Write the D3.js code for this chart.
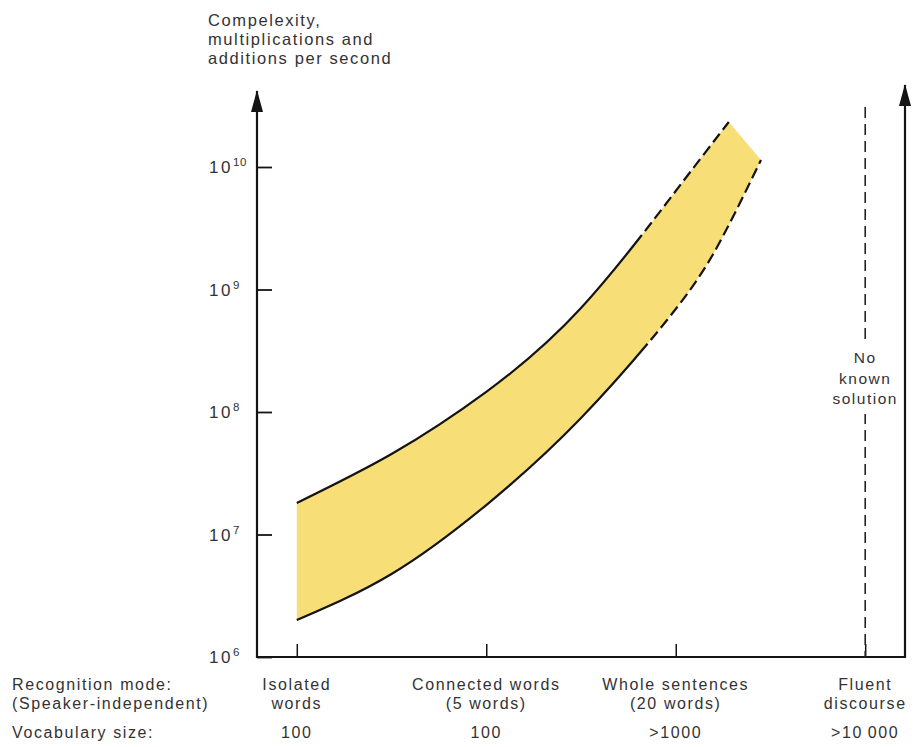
<!DOCTYPE html>
<html>
<head>
<meta charset="utf-8">
<script src="https://cdn.jsdelivr.net/npm/d3@7"></script>
<style>
    body { margin: 0; background: #fff; }
    svg text { font-family: "Liberation Sans", Arial, Helvetica, sans-serif; fill: #333; }
</style>
</head>
<body>
<svg id="chart" width="920" height="747"></svg>
<script>
// horizontal categories
const modeLabels = [
    ["Isolated", "words"],
    ["Connected words", "(5 words)"],
    ["Whole sentences", "(20 words)"],
    ["Fluent", "discourse"]
];
const vocabularySizes = ["100", "100", ">1000", ">10\u2009000"];
const rowLabels = ["Recognition mode:", "(Speaker-independent)", "Vocabulary size:"];
const yTitle = ["Compelexity,", "multiplications and", "additions per second"];
const yTickExponents = [6, 7, 8, 9, 10];
const noSolutionLabel = ["No", "known", "solution"];

// band edges, position in category units -> multiplications+additions per second
const upperPos = [0, 0.5, 1.0, 1.5, 2.0, 2.28];
const upperOps = [1.81e7, 4.54e7, 1.46e8, 7.06e8, 6.37e9, 2.33e10];
const lowerPos = [0, 0.5, 1.0, 1.5, 2.0, 2.25, 2.45];
const lowerOps = [2.0e6, 4.76e6, 1.74e7, 8.93e7, 6.93e8, 2.74e9, 1.14e10];
// beyond these positions the edges are only projected (dashed)
const upperSolidUntil = 1.82;
const lowerSolidUntil = 1.85;

window.Chart = window.Chart || {};

Chart.init = function() {
    Chart.setup.initConst();
    Chart.setup.initScales();
    Chart.setup.initDefs();
    Chart.core.draw();
};

Chart.core = {
    draw: function() {
        Chart.core.drawBand();
        Chart.core.drawAxes();
        Chart.core.drawNoSolution();
        Chart.core.drawTexts();
    },

    drawBand: function() {
        let upper = upperPos.map((p, i) => ({pos: p, ops: upperOps[i]}));
        let lower = lowerPos.map((p, i) => ({pos: p, ops: lowerOps[i]}));
        let back = Chart.line(lower.slice().reverse()).replace(/^M/, 'L');

        Chart.svg.append('path')
            .attr('d', Chart.line(upper) + back + 'Z')
            .attr('fill', '#f8de76')
            .attr('stroke', 'none');

        Chart.core.drawEdge(upper, upperSolidUntil);
        Chart.core.drawEdge(lower, lowerSolidUntil);
    },

    drawEdge: function(points, solidUntil) {
        let path = Chart.svg.append('path')
            .attr('d', Chart.line(points))
            .attr('fill', 'none')
            .attr('stroke', '#141414')
            .attr('stroke-width', 2.2);
        let len = Chart.helpers.lengthAtX(path.node(), Chart.xPos(solidUntil));
        let total = path.node().getTotalLength();
        let dash = [len, 5];
        for (let s = len + 5; s < total; s += 16) dash.push(11, 5);
        path.attr('stroke-dasharray', dash.join(' '));
    },

    drawAxes: function() {
        let yTicks = Chart.svg.append('g')
            .attr('transform', 'translate(' + Chart.left + ',0)')
            .call(d3.axisLeft(Chart.y)
                .tickValues(yTickExponents.map(e => Math.pow(10, e)))
                .tickSize(-15)
                .tickFormat(() => ''));
        yTicks.select('.domain').remove();
        yTicks.selectAll('line').attr('stroke', '#141414').attr('stroke-width', 1.8);

        let xTicks = Chart.svg.append('g')
            .attr('transform', 'translate(0,' + Chart.bottom + ')')
            .call(d3.axisBottom(Chart.x).tickSize(-13).tickFormat(() => ''));
        xTicks.select('.domain').remove();
        xTicks.selectAll('line').attr('stroke', '#141414').attr('stroke-width', 1.5);

        Chart.svg.append('path')
            .attr('d', 'M' + Chart.left + ',' + Chart.leftTip + 'V' + Chart.bottom +
                       'H' + Chart.right + 'V' + Chart.rightTip)
            .attr('fill', 'none')
            .attr('stroke', '#141414')
            .attr('stroke-width', 2.2)
            .attr('marker-start', 'url(#head)')
            .attr('marker-end', 'url(#head)');

        yTickExponents.forEach(function(e) {
            let t = Chart.svg.append('text')
                .attr('x', 209)
                .attr('y', Chart.y(Math.pow(10, e)) + 6)
                .attr('font-size', 17)
                .attr('letter-spacing', 2.5);
            t.append('tspan').text('10');
            t.append('tspan').attr('font-size', 11.5).attr('dy', -7)
                .attr('letter-spacing', 0.8).text(e);
        });
    },

    drawNoSolution: function() {
        let cx = Chart.x(3);
        Chart.svg.append('line')
            .attr('x1', cx).attr('x2', cx)
            .attr('y1', 107).attr('y2', Chart.bottom)
            .attr('stroke', '#222')
            .attr('stroke-width', 1.6)
            .attr('stroke-dasharray', '11 6');
        Chart.svg.append('rect')
            .attr('x', cx - 34).attr('y', 344)
            .attr('width', 68).attr('height', 70)
            .attr('fill', '#fff');
        noSolutionLabel.forEach(function(s, i) {
            Chart.svg.append('text')
                .attr('x', cx).attr('y', 363 + i * 20.5)
                .attr('text-anchor', 'middle')
                .attr('font-size', 15.5)
                .attr('letter-spacing', 1.5)
                .text(s);
        });
    },

    drawTexts: function() {
        yTitle.forEach(function(s, i) {
            Chart.helpers.label(208, 26 + i * 19, s, 'start', 16.5);
        });
        Chart.helpers.label(12, 690, rowLabels[0], 'start', 16);
        Chart.helpers.label(12, 709, rowLabels[1], 'start', 16);
        Chart.helpers.label(12, 738, rowLabels[2], 'start', 16);

        modeLabels.forEach(function(lines, i) {
            let cx = Chart.x(i);
            Chart.helpers.label(cx, 690, lines[0], 'middle', 16);
            Chart.helpers.label(cx, 709, lines[1], 'middle', 16);
            Chart.helpers.label(cx, 738, vocabularySizes[i], 'middle', 16);
        });
    }
};

Chart.helpers = {
    lengthAtX: function(node, xTarget) {
        let lo = 0, hi = node.getTotalLength();
        for (let k = 0; k < 40; k++) {
            let mid = (lo + hi) / 2;
            if (node.getPointAtLength(mid).x < xTarget) lo = mid; else hi = mid;
        }
        return lo;
    },

    label: function(x, y, s, anchor, size) {
        return Chart.svg.append('text')
            .attr('x', x).attr('y', y)
            .attr('text-anchor', anchor)
            .attr('font-size', size)
            .attr('letter-spacing', 1.6)
            .text(s);
    }
};

Chart.setup = {
    initConst: function() {
        Chart.left = 257;
        Chart.right = 905;
        Chart.bottom = 657;
        Chart.top = 167;      // 10^10
        Chart.leftTip = 91;
        Chart.rightTip = 85;
    },

    initScales: function() {
        Chart.svg = d3.select('#chart');
        Chart.x = d3.scalePoint()
            .domain(d3.range(modeLabels.length))
            .range([Chart.left, Chart.right])
            .padding(0.21);
        Chart.xPos = d3.scaleLinear()
            .domain([0, modeLabels.length - 1])
            .range([Chart.x(0), Chart.x(modeLabels.length - 1)]);
        Chart.y = d3.scaleLog()
            .domain([1e6, 1e10])
            .range([Chart.bottom, Chart.top]);
        Chart.line = d3.line()
            .x(d => Chart.xPos(d.pos))
            .y(d => Chart.y(d.ops))
            .curve(d3.curveNatural);
    },

    initDefs: function() {
        Chart.svg.append('defs').append('marker')
            .attr('id', 'head')
            .attr('viewBox', '0 0 22 12')
            .attr('refX', 21).attr('refY', 6)
            .attr('markerWidth', 22).attr('markerHeight', 12)
            .attr('markerUnits', 'userSpaceOnUse')
            .attr('orient', 'auto-start-reverse')
            .append('path')
            .attr('d', 'M0,0 L22,6 L0,12 Z')
            .attr('fill', '#141414');
    }
};

Chart.init();
</script>
</body>
</html>
